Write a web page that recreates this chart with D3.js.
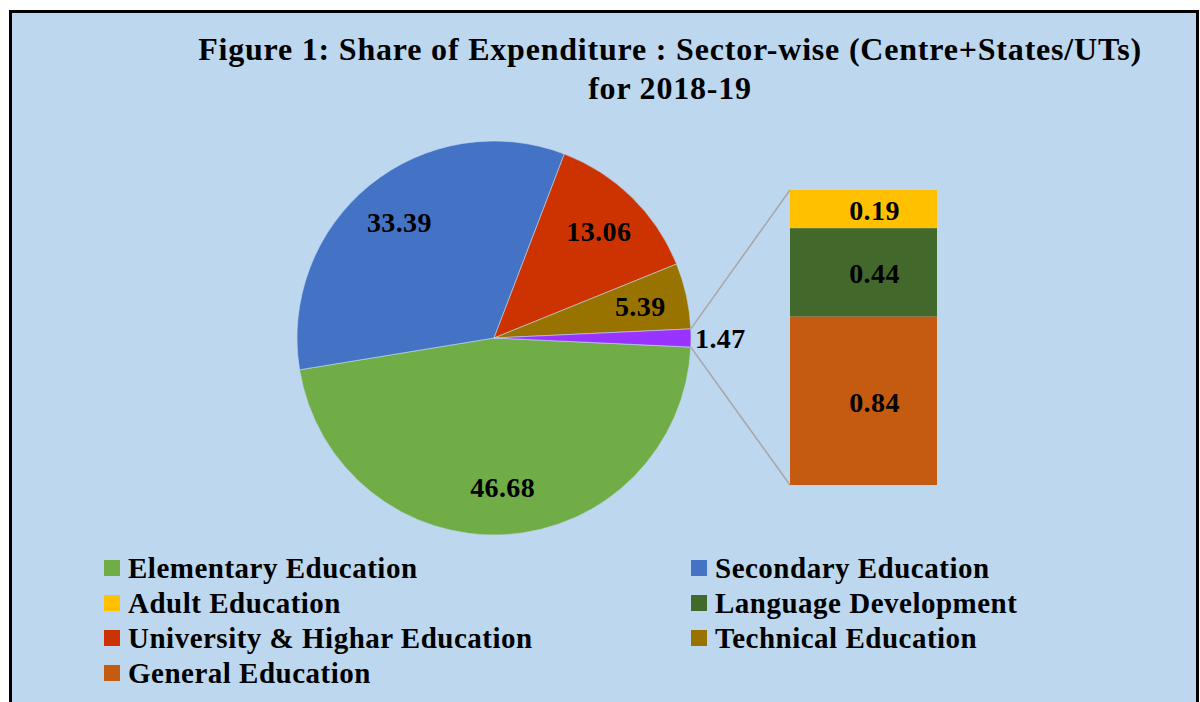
<!DOCTYPE html>
<meta charset="utf-8">
<style>
body { margin: 0; background: #fff; }
text {
  font-family: "Liberation Serif", "Times New Roman", serif;
  font-weight: bold;
  fill: #000;
}
</style>
<svg width="1200" height="702"></svg>
<script src="https://cdn.jsdelivr.net/npm/d3@7"></script>
<script>

// pie sectors (percent share)
var pieNames  = ["Elementary Education", "Secondary Education", "University & Highar Education", "Technical Education", "Other"];
var pieValues = [46.68, 33.39, 13.06, 5.39, 1.47];
var pieColors = ["#70AD47", "#4472C4", "#CC3300", "#997300", "#9933FF"];

// the "Other" slice split out into the bar (bottom to top)
var barNames  = ["General Education", "Language Development", "Adult Education"];
var barValues = [0.84, 0.44, 0.19];
var barColors = ["#C55A11", "#43682B", "#FFC000"];

// legend order, as in the original (row by row, two columns)
var legendNames = ["Elementary Education", "Secondary Education", "Adult Education",
                   "Language Development", "University & Highar Education",
                   "Technical Education", "General Education"];

var titleLines = ["Figure 1: Share of Expenditure : Sector-wise (Centre+States/UTs)", "for 2018-19"];

var svg = d3.select("svg"),
    width = +svg.attr("width"),
    height = +svg.attr("height");

var colorOf = {};
pieNames.forEach(function(n, i) { colorOf[n] = pieColors[i]; });
barNames.forEach(function(n, i) { colorOf[n] = barColors[i]; });

// background + frame
svg.append("rect")
    .attr("x", 10.5).attr("y", 11.5)
    .attr("width", 1187).attr("height", 702)
    .attr("fill", "#BDD7EE")
    .attr("stroke", "#000")
    .attr("stroke-width", 3);

// title
svg.append("g").selectAll("text")
  .data(titleLines)
  .enter().append("text")
    .attr("x", 670)
    .attr("y", function(d, i) { return 60 + i * 39; })
    .attr("text-anchor", "middle")
    .attr("font-size", 32)
    .attr("letter-spacing", 0.8)
    .text(function(d) { return d; });

// ---- pie ----
var cx = 494, cy = 338, r = 197;
var total = d3.sum(pieValues);
var otherAngle = pieValues[pieValues.length - 1] / total * 2 * Math.PI;
var start = Math.PI / 2 + otherAngle / 2;   // "Other" slice centred at 3 o'clock

var pie = d3.pie().sort(null)
    .startAngle(start)
    .endAngle(start + 2 * Math.PI);

var arcs = pie(pieValues);
var arc = d3.arc().innerRadius(0).outerRadius(r);
var labelArc = d3.arc().innerRadius(r * 0.54).outerRadius(r * 0.98);

var pieG = svg.append("g").attr("transform", "translate(" + cx + "," + cy + ")");

pieG.selectAll("path")
  .data(arcs)
  .enter().append("path")
    .attr("d", arc)
    .attr("fill", function(d, i) { return pieColors[i]; })
    .attr("stroke", "#BDD7EE")
    .attr("stroke-width", 0.6);

pieG.selectAll("text.lab")
  .data(arcs.slice(0, 4))
  .enter().append("text")
    .attr("class", "lab")
    .attr("transform", function(d) { return "translate(" + labelArc.centroid(d) + ")"; })
    .attr("text-anchor", "middle")
    .attr("dy", "0.35em")
    .attr("font-size", 28)
    .attr("letter-spacing", 0.4)
    .text(function(d) { return d.value.toFixed(2); });

var otherArc = arcs[arcs.length - 1];
pieG.append("text")
    .attr("x", r + 4)
    .attr("y", 0)
    .attr("dy", "0.35em")
    .attr("font-size", 28)
    .attr("letter-spacing", 0.4)
    .text(otherArc.value.toFixed(2));

// ---- bar of pie ----
var barX0 = 790, barX1 = 937;
var y = d3.scaleLinear()
    .domain([0, d3.sum(barValues)])
    .range([485, 190]);

var stacked = [], acc = 0;
barValues.forEach(function(v, i) {
  stacked.push({ name: barNames[i], value: v, y0: acc, y1: acc + v });
  acc += v;
});

// connector lines from the "Other" slice to the bar
var pTop = [cx + r * Math.sin(otherArc.startAngle), cy - r * Math.cos(otherArc.startAngle)];
var pBot = [cx + r * Math.sin(otherArc.endAngle), cy - r * Math.cos(otherArc.endAngle)];
svg.append("g").selectAll("line")
  .data([[pTop, [barX0, y(acc)]], [pBot, [barX0, y(0)]]])
  .enter().append("line")
    .attr("x1", function(d) { return d[0][0]; })
    .attr("y1", function(d) { return d[0][1]; })
    .attr("x2", function(d) { return d[1][0]; })
    .attr("y2", function(d) { return d[1][1]; })
    .attr("stroke", "#A6A6A6")
    .attr("stroke-width", 1.5);

var barG = svg.append("g");
barG.selectAll("rect")
  .data(stacked)
  .enter().append("rect")
    .attr("x", barX0)
    .attr("width", barX1 - barX0)
    .attr("y", function(d) { return y(d.y1); })
    .attr("height", function(d) { return y(d.y0) - y(d.y1); })
    .attr("fill", function(d) { return colorOf[d.name]; });

barG.selectAll("text")
  .data(stacked)
  .enter().append("text")
    .attr("x", (barX0 + barX1) / 2 + 11)
    .attr("y", function(d) { return y((d.y0 + d.y1) / 2); })
    .attr("dy", "0.4em")
    .attr("text-anchor", "middle")
    .attr("font-size", 28)
    .attr("letter-spacing", 0.4)
    .text(function(d) { return d.value.toFixed(2); });

// ---- legend ----
var legend = svg.append("g").selectAll("g")
  .data(legendNames)
  .enter().append("g")
    .attr("transform", function(d, i) {
      return "translate(" + (i % 2 ? 691 : 104) + "," + (568 + Math.floor(i / 2) * 35) + ")";
    });

legend.append("rect")
    .attr("x", 0).attr("y", -8)
    .attr("width", 16).attr("height", 16)
    .attr("fill", function(d) { return colorOf[d]; });

legend.append("text")
    .attr("x", 24)
    .attr("dy", "0.35em")
    .attr("font-size", 29)
    .attr("letter-spacing", 0.5)
    .text(function(d) { return d; });

</script>
